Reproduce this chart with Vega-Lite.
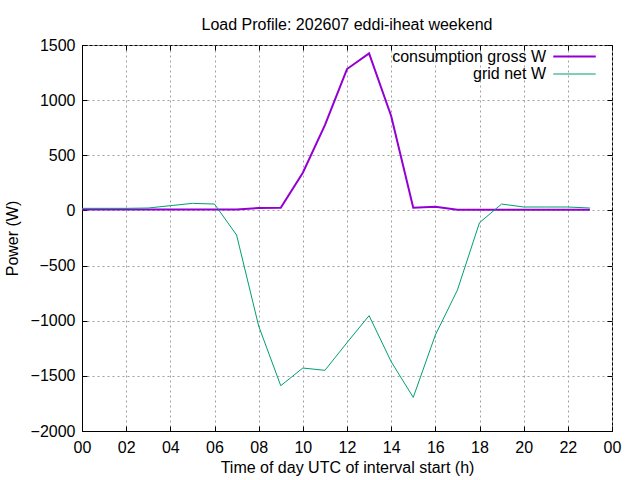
{
  "$schema": "https://vega.github.io/schema/vega-lite/v6.json",
  "autosize": "none",
  "width": 530,
  "height": 386,
  "padding": {"left": 82, "top": 45, "right": 28, "bottom": 49},
  "background": "white",
  "title": {"text": "Load Profile: 202607 eddi-iheat weekend", "font": "Liberation Sans", "fontSize": 16, "fontWeight": "normal", "color": "black", "offset": 4},
  "config": {
    "view": {"stroke": "black", "strokeWidth": 1},
    "axis": {
      "labelFont": "Liberation Sans", "labelFontSize": 16, "labelColor": "black",
      "titleFont": "Liberation Sans", "titleFontSize": 16, "titleFontWeight": "normal", "titleColor": "black",
      "domainColor": "black", "tickColor": "black", "tickSize": -5,
      "gridColor": "#a0a0a0", "gridDash": [2, 3], "gridOpacity": 1, "gridWidth": 1
    },
    "legend": {"labelFont": "Liberation Sans", "labelFontSize": 16, "labelColor": "black"}
  },
  "data": {"values": [
    {"hour": 0, "series": "consumption gross W", "value": 8},
    {"hour": 1, "series": "consumption gross W", "value": 8},
    {"hour": 2, "series": "consumption gross W", "value": 8},
    {"hour": 3, "series": "consumption gross W", "value": 8},
    {"hour": 4, "series": "consumption gross W", "value": 8},
    {"hour": 5, "series": "consumption gross W", "value": 8},
    {"hour": 6, "series": "consumption gross W", "value": 8},
    {"hour": 7, "series": "consumption gross W", "value": 8},
    {"hour": 8, "series": "consumption gross W", "value": 22},
    {"hour": 9, "series": "consumption gross W", "value": 24},
    {"hour": 10, "series": "consumption gross W", "value": 342},
    {"hour": 11, "series": "consumption gross W", "value": 774},
    {"hour": 12, "series": "consumption gross W", "value": 1282},
    {"hour": 13, "series": "consumption gross W", "value": 1424},
    {"hour": 14, "series": "consumption gross W", "value": 856},
    {"hour": 15, "series": "consumption gross W", "value": 24},
    {"hour": 16, "series": "consumption gross W", "value": 34},
    {"hour": 17, "series": "consumption gross W", "value": 6},
    {"hour": 18, "series": "consumption gross W", "value": 6},
    {"hour": 19, "series": "consumption gross W", "value": 6},
    {"hour": 20, "series": "consumption gross W", "value": 6},
    {"hour": 21, "series": "consumption gross W", "value": 6},
    {"hour": 22, "series": "consumption gross W", "value": 6},
    {"hour": 23, "series": "consumption gross W", "value": 6},
    {"hour": 0, "series": "grid net W", "value": 19},
    {"hour": 1, "series": "grid net W", "value": 19},
    {"hour": 2, "series": "grid net W", "value": 19},
    {"hour": 3, "series": "grid net W", "value": 22},
    {"hour": 4, "series": "grid net W", "value": 43},
    {"hour": 5, "series": "grid net W", "value": 64},
    {"hour": 6, "series": "grid net W", "value": 58},
    {"hour": 7, "series": "grid net W", "value": -223},
    {"hour": 8, "series": "grid net W", "value": -1048},
    {"hour": 9, "series": "grid net W", "value": -1589},
    {"hour": 10, "series": "grid net W", "value": -1429},
    {"hour": 11, "series": "grid net W", "value": -1450},
    {"hour": 12, "series": "grid net W", "value": -1199},
    {"hour": 13, "series": "grid net W", "value": -954},
    {"hour": 14, "series": "grid net W", "value": -1371},
    {"hour": 15, "series": "grid net W", "value": -1695},
    {"hour": 16, "series": "grid net W", "value": -1130},
    {"hour": 17, "series": "grid net W", "value": -722},
    {"hour": 18, "series": "grid net W", "value": -111},
    {"hour": 19, "series": "grid net W", "value": 58},
    {"hour": 20, "series": "grid net W", "value": 31},
    {"hour": 21, "series": "grid net W", "value": 31},
    {"hour": 22, "series": "grid net W", "value": 31},
    {"hour": 23, "series": "grid net W", "value": 22}
  ]},
  "layer": [
    {
      "mark": {"type": "line", "clip": true},
      "encoding": {
        "x": {"field": "hour", "type": "quantitative", "scale": {"domain": [0, 24], "nice": false},
              "axis": {"values": [0,2,4,6,8,10,12,14,16,18,20,22,24], "labelExpr": "datum.value == 24 ? '00' : (datum.value < 10 ? '0' + datum.value : '' + datum.value)", "title": "Time of day UTC of interval start (h)", "labelPadding": 13, "titlePadding": 4, "labelFlush": false}},
        "y": {"field": "value", "type": "quantitative", "scale": {"domain": [-2000, 1500], "nice": false},
              "axis": {"values": [-2000,-1500,-1000,-500,0,500,1000,1500], "format": "d", "title": "Power (W)", "labelPadding": 12, "titlePadding": 10}},
        "color": {"field": "series", "type": "nominal",
                  "scale": {"domain": ["consumption gross W", "grid net W"], "range": ["#9400D3", "#009E73"]},
                  "legend": {"title": null, "orient": "none", "legendX": 481, "legendY": 0, "symbolType": "M-2.5,0H2.5", "symbolSize": 289, "symbolStrokeWidth": 2, "labelAlign": "right", "labelOffset": -38, "rowPadding": 0, "padding": 2}},
        "strokeWidth": {"field": "series", "type": "nominal",
                  "scale": {"domain": ["consumption gross W", "grid net W"], "range": [2, 1]}, "legend": null}
      }
    },
    {
      "mark": {"type": "line", "opacity": 0},
      "encoding": {
        "x": {"field": "hour", "type": "quantitative", "scale": {"domain": [0, 24], "nice": false},
              "axis": {"orient": "top", "values": [0,2,4,6,8,10,12,14,16,18,20,22,24], "labels": false, "grid": false, "domain": false, "title": null}},
        "y": {"field": "value", "type": "quantitative", "scale": {"domain": [-2000, 1500], "nice": false},
              "axis": {"orient": "right", "values": [-2000,-1500,-1000,-500,0,500,1000,1500], "labels": false, "grid": false, "domain": false, "title": null}},
        "detail": {"field": "series"}
      }
    }
  ],
  "resolve": {"axis": {"x": "independent", "y": "independent"}}
}
